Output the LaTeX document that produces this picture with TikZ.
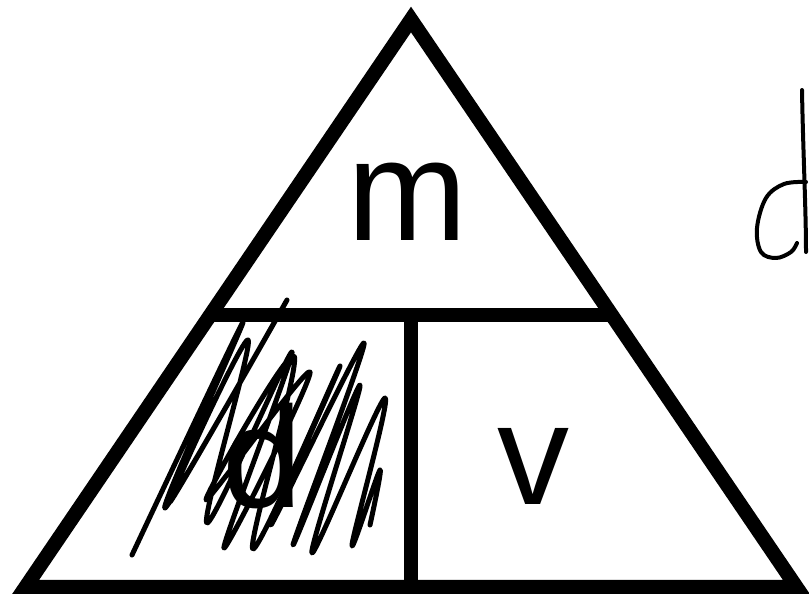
\documentclass[tikz,border=0pt]{standalone}
\usepackage{fontspec}
\setmainfont{Liberation Sans}
\usetikzlibrary{calc}
\begin{document}
\begin{tikzpicture}[
    x=0.5pt, y=-0.5pt,
    frame/.style={line width=7.2pt},
    letter/.style={anchor=base, inner sep=0pt, font=\fontsize{72}{72}\selectfont},
    scribble/.style={line width=2.5pt, line cap=round, line join=round},
    hand/.style={line width=2pt, line cap=round, line join=round}
]
\useasboundingbox (0,0) rectangle (809,594);
\clip (0,0) rectangle (809,594);
\coordinate (apex) at (411,19.5);
\coordinate (left) at (25.6,587);
\coordinate (right) at (796.4,587);
\coordinate (midL) at ($(apex)!0.521!(left)$);
\coordinate (midR) at ($(apex)!0.521!(right)$);
\coordinate (midC) at ($(midL)!0.5!(midR)$);
\coordinate (baseC) at ($(left)!0.5!(right)$);
\draw[frame] (apex) -- (left) -- (right) -- cycle;
\draw[frame] (midL) -- (midR);
\draw[frame] (midC) -- (baseC);
\node[letter] (mass) at (407,240) {m};
\node[letter] (density) at (263,507) {d};
\node[letter] (volume) at (533,504) {v};
\draw[scribble] plot[smooth, tension=0.55] coordinates {
    (132,555) (243,322) (165,508) (287,300) (170,502) (248,340)
    (207,523) (292,352) (224,548) (310,372) (206,500) (294,356)
    (253,549) (340,366) (271,525) (364,343) (293,545) (360,385)
    (312,553) (385,398) (352,545) (380,470) (370,525)};
\draw[hand] (802,90) .. controls (803,150) and (806,210) .. (806,252);
\draw[hand] plot[smooth, tension=0.6] coordinates {
    (806,182) (784,184) (766,198) (757,228) (761,252) (776,258) (791,252) (797,243)};
\end{tikzpicture}
\end{document}
